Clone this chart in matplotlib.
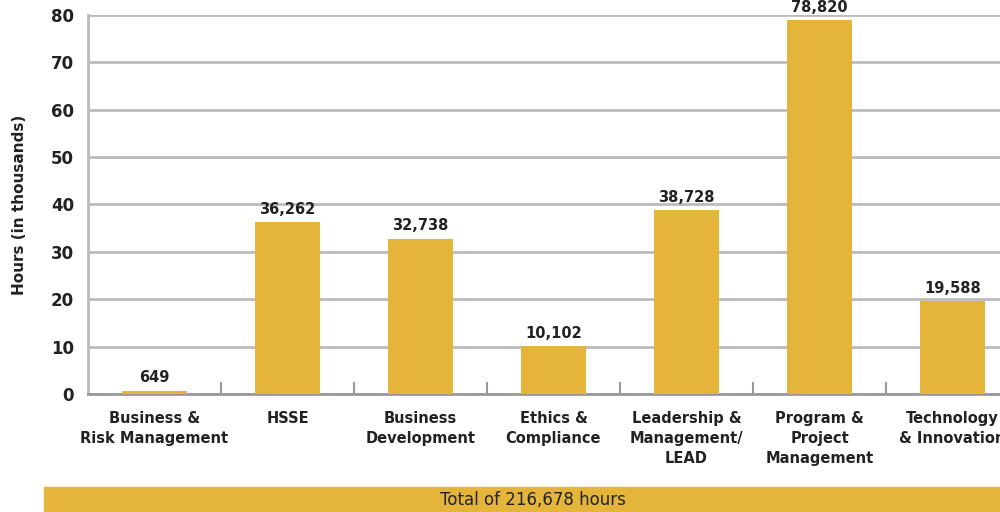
import numpy as np
import matplotlib.pyplot as plt
from matplotlib.patches import Rectangle

# ------------------------------
# Data (hours, in thousands)
# ------------------------------
categories = ['Business &\nRisk Management', 'HSSE', 'Business\nDevelopment',
              'Ethics &\nCompliance', 'Leadership &\nManagement/\nLEAD',
              'Program &\nProject\nManagement', 'Technology\n& Innovation']
hours = [0.649, 36.262, 32.738, 10.102, 38.728, 78.820, 19.588]
value_labels = ['649', '36,262', '32,738', '10,102', '38,728', '78,820', '19,588']
y_ticks = [0, 10, 20, 30, 40, 50, 60, 70, 80]
total_text = 'Total of 216,678 hours'

gold = '#E4B43B'
grid_col = '#BBBBBB'
txt_col = '#222222'

fig = plt.figure(figsize=(10, 5.12), dpi=100)
ax = fig.add_axes([0.088, 0.2305, 0.931, 0.7405])

x = np.arange(len(categories))
ax.bar(x, hours, width=0.49, color=gold, zorder=3)

for xi, h, lab in zip(x, hours, value_labels):
    ax.annotate(lab, (xi, h), xytext=(0, 4), textcoords='offset points',
                ha='center', va='bottom', fontsize=10.5, fontweight='bold',
                color=txt_col, annotation_clip=False)

ax.set_xlim(-0.5, len(categories) - 0.5)
ax.set_ylim(0, 80)
ax.set_yticks(y_ticks)
ax.set_yticklabels([str(t) for t in y_ticks], fontsize=12, fontweight='bold', color=txt_col)
ax.tick_params(axis='y', length=0, pad=10)

ax.set_xticks(x)
ax.set_xticklabels(categories, fontsize=10.5, fontweight='bold', color=txt_col,
                   linespacing=1.45, va='top')
ax.tick_params(axis='x', which='major', length=0, pad=12)
ax.set_xticks(x[:-1] + 0.5, minor=True)
ax.tick_params(axis='x', which='minor', direction='in', length=9, width=1.5, color='#999999')

ax.yaxis.grid(True, color=grid_col, linewidth=2, zorder=0)
ax.set_axisbelow(True)
for s in ['top', 'right']:
    ax.spines[s].set_visible(False)
ax.spines['left'].set_color(grid_col)
ax.spines['left'].set_linewidth(2)
ax.spines['bottom'].set_color('#999999')
ax.spines['bottom'].set_linewidth(2)

ax.set_ylabel('Hours (in thousands)', fontsize=11, fontweight='bold', color=txt_col)
ax.yaxis.set_label_coords(-0.066, 0.5)

# total banner at the bottom
fig.patches.append(Rectangle((0.044, 0.0), 0.98, 0.049, transform=fig.transFigure,
                             color=gold, zorder=0))
fig.text(0.533, 0.024, total_text, ha='center', va='center', fontsize=12, color=txt_col)

fig.savefig('out.png', dpi=100)
plt.close()
